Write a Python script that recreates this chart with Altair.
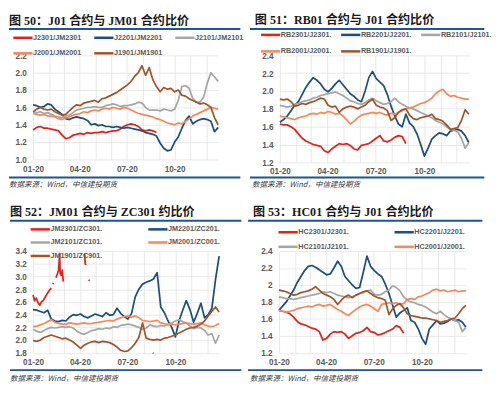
import altair as alt
import pandas as pd

# ---------------- data ----------------
START = pd.Timestamp("2021-01-20")
END = pd.Timestamp("2022-01-12")
week_dates = list(pd.date_range(START, periods=52, freq="7D"))
month_ticks = [pd.Timestamp(2021, m, 20) for m in range(1, 13)]

COLORS = ["#E2231A", "#1B4F80", "#A6A6A6", "#F7885A", "#A0562A"]
BLUE_RULE = "#1F5591"

# Panel 1: J01 / JM01
p1_names = ["J2301/JM2301", "J2201/JM2201", "J2101/JM2101", "J2001/JM2001", "J1901/JM1901"]
p1_2301 = [1.34,1.37,1.38,1.36,1.36,1.35,1.34,1.33,1.28,1.24,1.25,1.28,1.29,1.30,1.29,1.31,1.30,1.31,1.31,1.32,
           1.31,1.32,1.33,1.33,1.35,1.38,1.40,1.41,1.40,1.38,1.34,1.33,1.34,1.33,1.31]
p1_2201 = [1.63,1.62,1.60,1.61,1.64,1.63,1.58,1.55,1.52,1.47,1.46,1.48,1.49,1.48,1.47,1.45,1.40,1.41,1.39,1.40,
           1.38,1.38,1.37,1.38,1.37,1.36,1.37,1.36,1.35,1.34,1.33,1.31,1.30,1.29,1.27,1.19,1.13,1.10,1.11,1.20,
           1.26,1.36,1.45,1.50,1.41,1.44,1.46,1.47,1.46,1.44,1.32,1.37]
p1_2101 = [1.55,1.54,1.55,1.53,1.54,1.52,1.50,1.49,1.48,1.50,1.51,1.54,1.57,1.58,1.59,1.60,1.60,1.61,1.60,1.60,
           1.62,1.63,1.64,1.63,1.61,1.62,1.62,1.63,1.64,1.66,1.65,1.60,1.57,1.57,1.57,1.56,1.58,1.57,1.56,1.58,
           1.68,1.84,1.85,1.82,1.70,1.66,1.66,1.72,1.88,2.00,1.95,1.90]
p1_2001 = [1.53,1.52,1.51,1.52,1.50,1.50,1.49,1.47,1.46,1.48,1.49,1.51,1.52,1.53,1.55,1.54,1.56,1.57,1.56,1.58,
           1.59,1.58,1.60,1.59,1.58,1.60,1.59,1.57,1.55,1.53,1.52,1.51,1.50,1.49,1.47,1.46,1.44,1.42,1.41,1.40,
           1.42,1.41,1.44,1.47,1.50,1.52,1.54,1.56,1.58,1.60,1.59,1.58]
p1_1901 = [1.55,1.58,1.60,1.58,1.57,1.58,1.55,1.53,1.51,1.52,1.56,1.60,1.63,1.62,1.65,1.66,1.67,1.68,1.66,1.70,
           1.71,1.73,1.75,1.77,1.80,1.83,1.86,1.90,1.96,2.00,2.08,1.97,2.06,1.92,1.84,1.78,1.83,1.81,1.82,1.78,
           1.80,1.74,1.73,1.70,1.68,1.66,1.64,1.65,1.63,1.60,1.48,1.40]

# Panel 2: RB01 / J01
p2_names = ["RB2301/J2301.", "RB2201/J2201.", "RB2101/J2101.", "RB2001/J2001.", "RB1901/J1901."]
p2_2301 = [1.63,1.62,1.62,1.60,1.57,1.52,1.47,1.44,1.42,1.40,1.39,1.38,1.33,1.31,1.35,1.38,1.41,1.40,1.41,1.39,
           1.35,1.34,1.39,1.40,1.41,1.44,1.47,1.50,1.44,1.43,1.45,1.48,1.50,1.49,1.41]
p2_2201 = [1.65,1.68,1.72,1.78,1.84,1.88,1.96,2.04,2.10,2.15,2.12,2.08,2.02,1.99,2.03,2.08,2.12,2.07,2.02,1.97,
           1.94,1.90,1.88,2.00,2.15,2.22,2.14,2.10,2.06,1.96,1.83,1.72,1.63,1.60,1.74,1.64,1.60,1.52,1.40,1.27,
           1.36,1.46,1.50,1.53,1.52,1.50,1.55,1.56,1.57,1.55,1.50,1.42]
p2_2101 = [1.84,1.83,1.82,1.83,1.85,1.86,1.88,1.89,1.90,1.92,1.93,1.95,1.96,1.97,1.98,1.99,1.97,1.95,1.92,1.89,
           1.88,1.86,1.85,1.87,1.90,1.92,1.89,1.87,1.85,1.86,1.88,1.92,1.88,1.85,1.83,1.81,1.80,1.78,1.76,1.74,
           1.72,1.70,1.67,1.65,1.63,1.60,1.57,1.56,1.54,1.47,1.36,1.42]
p2_2001 = [1.72,1.71,1.70,1.69,1.68,1.70,1.71,1.72,1.74,1.75,1.74,1.76,1.75,1.77,1.76,1.74,1.75,1.72,1.68,1.63,
           1.66,1.70,1.73,1.74,1.75,1.76,1.75,1.76,1.74,1.73,1.75,1.74,1.76,1.78,1.80,1.81,1.82,1.84,1.86,1.87,
           1.89,1.92,1.97,2.00,2.02,1.97,1.94,1.95,1.93,1.92,1.91,1.91]
p2_1901 = [1.91,1.90,1.91,1.88,1.83,1.84,1.86,1.85,1.87,1.88,1.90,1.92,1.91,1.84,1.82,1.83,1.76,1.80,1.82,1.83,
           1.82,1.80,1.82,1.84,1.88,1.91,1.84,1.82,1.81,1.78,1.67,1.70,1.76,1.79,1.80,1.73,1.69,1.68,1.70,1.71,
           1.72,1.74,1.69,1.68,1.66,1.62,1.57,1.58,1.59,1.67,1.79,1.74]

# Panel 3: JM01 / ZC301
p3_names = ["JM2301/ZC301.", "JM2201/ZC201.", "JM2101/ZC101.", "JM2001/ZC001.", "JM1901/ZC901."]
p3_2301_days = [0,3,6,10,13,16,20,23,27,31,35,36, 38,39,40, 44,47,49,51,52,54,56,58,59,
                99,100,102,103, 107,108,109, 230,231]
p3_2301 = [2.71,2.62,2.66,2.58,2.55,2.60,2.63,2.67,2.73,2.78,2.82,None, 2.88,2.90,None,
           2.98,3.05,3.10,3.36,3.05,3.02,3.10,2.92,None, 3.36,3.20,3.18,None, 2.95,2.93,None, 1.80,1.79]
p3_2201 = [2.48,2.47,2.45,2.43,2.47,2.33,2.30,2.29,2.31,2.30,2.36,2.40,2.39,2.41,2.37,2.35,2.38,2.41,2.39,2.37,
           2.43,2.39,2.40,2.50,2.42,2.37,2.33,2.42,2.68,2.80,2.88,2.91,2.93,2.96,3.06,2.52,2.43,2.30,2.20,2.05,
           2.30,2.47,2.62,2.48,2.28,2.42,2.58,2.35,2.40,2.50,2.95,3.32]
p3_2101 = [2.17,2.14,2.12,2.15,2.18,2.20,2.19,2.20,2.21,2.20,2.21,2.19,2.14,2.11,2.09,2.12,2.15,2.16,2.18,2.17,
           2.19,2.18,2.21,2.20,2.23,2.24,2.25,2.24,2.22,2.20,2.17,2.19,2.24,2.22,2.21,2.23,2.22,2.25,2.27,2.30,
           2.32,2.29,2.27,2.22,2.18,2.20,2.19,2.15,2.08,2.10,1.95,2.08]
p3_2001 = [2.21,2.22,2.24,2.26,2.29,2.32,2.28,2.26,2.25,2.25,2.27,2.26,2.25,2.26,2.27,2.26,2.26,2.27,2.28,2.29,
           2.30,2.31,2.30,2.33,2.35,2.37,2.38,2.36,2.38,2.35,2.31,2.30,2.29,2.30,2.31,2.27,2.26,2.24,2.25,2.24,
           2.25,2.26,2.27,2.26,2.25,2.26,2.27,2.24,2.22,2.21,2.23,2.26]
p3_1901 = [1.99,1.98,2.00,2.04,2.06,2.08,2.06,2.04,2.02,2.03,2.00,1.97,1.92,1.87,1.92,1.95,1.97,1.98,1.96,1.98,
           1.97,1.96,1.93,1.89,1.84,1.82,1.83,1.88,1.95,2.04,2.27,2.03,2.01,2.00,2.01,2.00,2.03,2.04,2.06,2.08,
           2.11,2.14,2.17,2.19,2.20,2.22,2.25,2.30,2.38,2.45,2.52,2.44]

# Panel 4: HC01 / J01
p4_names = ["HC2301/J2301.", "HC2201/J2201.", "HC2101/J2101.", "HC2001/J2001.", "HC1901/J1901."]
p4_2301 = [1.70,1.69,1.68,1.66,1.62,1.57,1.54,1.53,1.51,1.49,1.48,1.45,1.35,1.37,1.42,1.45,1.44,1.45,1.42,1.37,
           1.40,1.43,1.44,1.46,1.50,1.45,1.44,1.41,1.42,1.44,1.46,1.48,1.52,1.50,1.43]
p4_2201 = [1.70,1.75,1.80,1.87,1.94,2.03,2.10,2.17,2.22,2.23,2.21,2.18,2.15,2.12,2.13,2.20,2.28,2.22,2.10,2.05,
           2.00,1.96,1.97,2.15,2.34,2.22,2.17,2.13,2.10,2.01,1.90,1.76,1.62,1.67,1.70,1.73,1.58,1.56,1.48,1.37,
           1.30,1.48,1.53,1.58,1.54,1.55,1.57,1.60,1.58,1.59,1.56,1.50]
p4_2101 = [1.86,1.85,1.84,1.84,1.83,1.84,1.85,1.86,1.87,1.88,1.89,1.90,1.92,1.91,1.92,1.90,1.88,1.87,1.86,1.85,
           1.86,1.88,1.90,1.91,1.93,1.94,1.89,1.88,1.89,1.92,1.94,1.99,1.97,1.93,1.86,1.82,1.80,1.79,1.77,1.76,
           1.74,1.71,1.68,1.66,1.69,1.65,1.62,1.60,1.58,1.56,1.45,1.50]
p4_2001 = [1.70,1.69,1.68,1.69,1.70,1.72,1.73,1.74,1.75,1.74,1.76,1.77,1.75,1.76,1.77,1.74,1.71,1.69,1.66,1.64,
           1.68,1.71,1.74,1.76,1.77,1.75,1.72,1.69,1.77,1.78,1.79,1.78,1.79,1.77,1.78,1.83,1.84,1.83,1.86,1.87,
           1.89,1.91,1.94,1.95,1.93,1.94,1.92,1.93,1.94,1.92,1.93,1.93]
p4_1901 = [1.94,1.93,1.92,1.90,1.88,1.89,1.91,1.92,1.93,1.95,1.98,1.94,1.90,1.88,1.86,1.83,1.77,1.82,1.86,1.88,
           1.85,1.88,1.90,1.92,1.93,1.90,1.87,1.85,1.84,1.82,1.65,1.72,1.76,1.78,1.73,1.66,1.64,1.63,1.62,1.61,
           1.61,1.60,1.59,1.58,1.56,1.57,1.58,1.60,1.61,1.66,1.72,1.76]

TITLES = ["图 50：J01 合约与 JM01 合约比价", "图 51：RB01 合约与 J01 合约比价",
          "图 52：JM01 合约与 ZC301 约比价", "图 53：HC01 合约与 J01 合约比价"]
SOURCE = "数据来源：Wind，中信建投期货"


def ms(t):
    return int(pd.Timestamp(t).value // 10**6)


def rows(name, dates, vals):
    out, seg = [], 0
    for d, v in zip(dates, vals):
        if v is None:
            seg += 1
            continue
        out.append({"date": ms(d), "name": name, "seg": f"{name}-{seg}", "v": v})
    return out


def frame(names, series, special=None):
    r = []
    for i, (n, s) in enumerate(zip(names, series)):
        if special is not None and i == 0:
            days, vals = special
            r += rows(n, [START + pd.Timedelta(days=d) for d in days], vals)
        else:
            r += rows(n, week_dates, s)
    return pd.DataFrame(r)


LABEL_EXPR = "utcmonth(datum.value) % 3 == 0 ? utcFormat(datum.value, '%m-%d') : ''"
one = pd.DataFrame({"k": [0]})


def panel(title, names, df, ydom, yticks, yfmt, w, h, leg, deco, legend_values=None):
    lx, ly, ncol, cpad, rpad = leg
    rx0, rx1, rtop, rbot, srcx, srcy, tx, ty = deco
    legend = alt.Legend(title=None, orient="none", legendX=lx, legendY=ly, direction="horizontal",
                        columns=ncol, symbolType="M-1,0H4.7", symbolSize=49, symbolStrokeWidth=2.6,
                        labelFontSize=7.5, labelFont="Liberation Sans", labelFontWeight="bold",
                        labelColor="#595959", labelOffset=12, columnPadding=cpad, rowPadding=rpad,
                        padding=0, values=legend_values if legend_values else names)
    lines = alt.Chart(df).mark_line(strokeWidth=1.8, strokeJoin="round").encode(
        x=alt.X("date:T",
                scale=alt.Scale(type="utc", domain=[ms(START), ms(END)]),
                axis=alt.Axis(values=[ms(t) for t in month_ticks], labelExpr=LABEL_EXPR, title=None,
                              labelFlush=False, labelOverlap=False, labelPadding=5)),
        y=alt.Y("v:Q", scale=alt.Scale(domain=ydom, nice=False, zero=False),
                axis=alt.Axis(values=yticks, format=yfmt, title=None, labelPadding=7)),
        color=alt.Color("name:N", scale=alt.Scale(domain=names, range=COLORS), legend=legend),
        detail="seg:N",
    )
    top = alt.Chart(one).mark_rule(color=BLUE_RULE, strokeWidth=2).encode(
        x=alt.value(rx0), x2=alt.value(rx1), y=alt.value(rtop))
    bot = alt.Chart(one).mark_rule(color=BLUE_RULE, strokeWidth=2).encode(
        x=alt.value(rx0), x2=alt.value(rx1), y=alt.value(rbot))
    src = alt.Chart(one).mark_text(align="left", baseline="middle", fontSize=7.8, fontStyle="italic",
                                   font="Noto Sans CJK SC", color="#404040").encode(
        x=alt.value(srcx), y=alt.value(srcy), text=alt.value(SOURCE))
    ttl = alt.Chart(one).mark_text(align="left", baseline="middle", fontSize=12.5, fontWeight="bold",
                                   font="Liberation Serif, Noto Sans CJK SC", color="#1a1a1a").encode(
        x=alt.value(tx), y=alt.value(ty), text=alt.value(title))
    return alt.layer(lines, top, bot, src, ttl).properties(width=w, height=h)


df1 = frame(p1_names, [p1_2301, p1_2201, p1_2101, p1_2001, p1_1901])
df2 = frame(p2_names, [p2_2301, p2_2201, p2_2101, p2_2001, p2_1901])
df3 = frame(p3_names, [None, p3_2201, p3_2101, p3_2001, p3_1901], special=(p3_2301_days, p3_2301))
df4 = frame(p4_names, [p4_2301, p4_2201, p4_2101, p4_2001, p4_1901])

c1 = panel(TITLES[0], p1_names, df1, [1.0, 2.2], [1.0, 1.2, 1.4, 1.6, 1.8, 2.0, 2.2], ".1f", 192, 108,
           (-22, -23.6, 3, 7, 4.5), (-25, 215, -27.25, 126.75, -25, 134.75, -25, -35.5))
c2 = panel(TITLES[1], p2_names, df2, [1.2, 2.4], [1.2, 1.4, 1.6, 1.8, 2.0, 2.2, 2.4], ".1f", 196, 111,
           (-21, -26.6, 3, 4, 5.5), (-31, 212, -27.25, 126.75, -29, 134.75, -26, -36))
c3 = panel(TITLES[2], p3_names, df3, [1.8, 3.4], [1.8, 2.0, 2.2, 2.4, 2.6, 2.8, 3.0, 3.2, 3.4], ".1f", 193, 105.5,
           (-4, -27.9, 2, 42, 2), (-24, 216, -31.5, 123.5, -24, 132.5, -24, -40))
c4 = panel(TITLES[3], p4_names, df4, [1.2, 2.4], [1.2, 1.4, 1.6, 1.8, 2.0, 2.2, 2.4], ".1~f", 194, 105.5,
           (-2, -24.9, 2, 41.4, 3.5), (-32, 211, -31.5, 123.5, -30, 132.5, -27, -40),
           legend_values=p4_names[:4])

row1 = alt.hconcat(c1, c2, spacing=5).resolve_scale(color="independent").resolve_legend(color="independent")
row2 = alt.hconcat(c3, c4, spacing=5).resolve_scale(color="independent").resolve_legend(color="independent")

chart = alt.vconcat(row1, row2, spacing=18).resolve_scale(color="independent").resolve_legend(
    color="independent"
).properties(padding={"left": 0, "top": 0, "right": 0, "bottom": 0}).configure_view(
    stroke=None
).configure_axis(
    domain=False, ticks=False, labelFont="Liberation Sans", labelFontSize=8.5, labelFontWeight="bold",
    labelColor="#595959", gridColor="#E3E3E3", gridWidth=0.8
)

chart.save("out.html", embed_options={"renderer": "svg", "actions": False})
